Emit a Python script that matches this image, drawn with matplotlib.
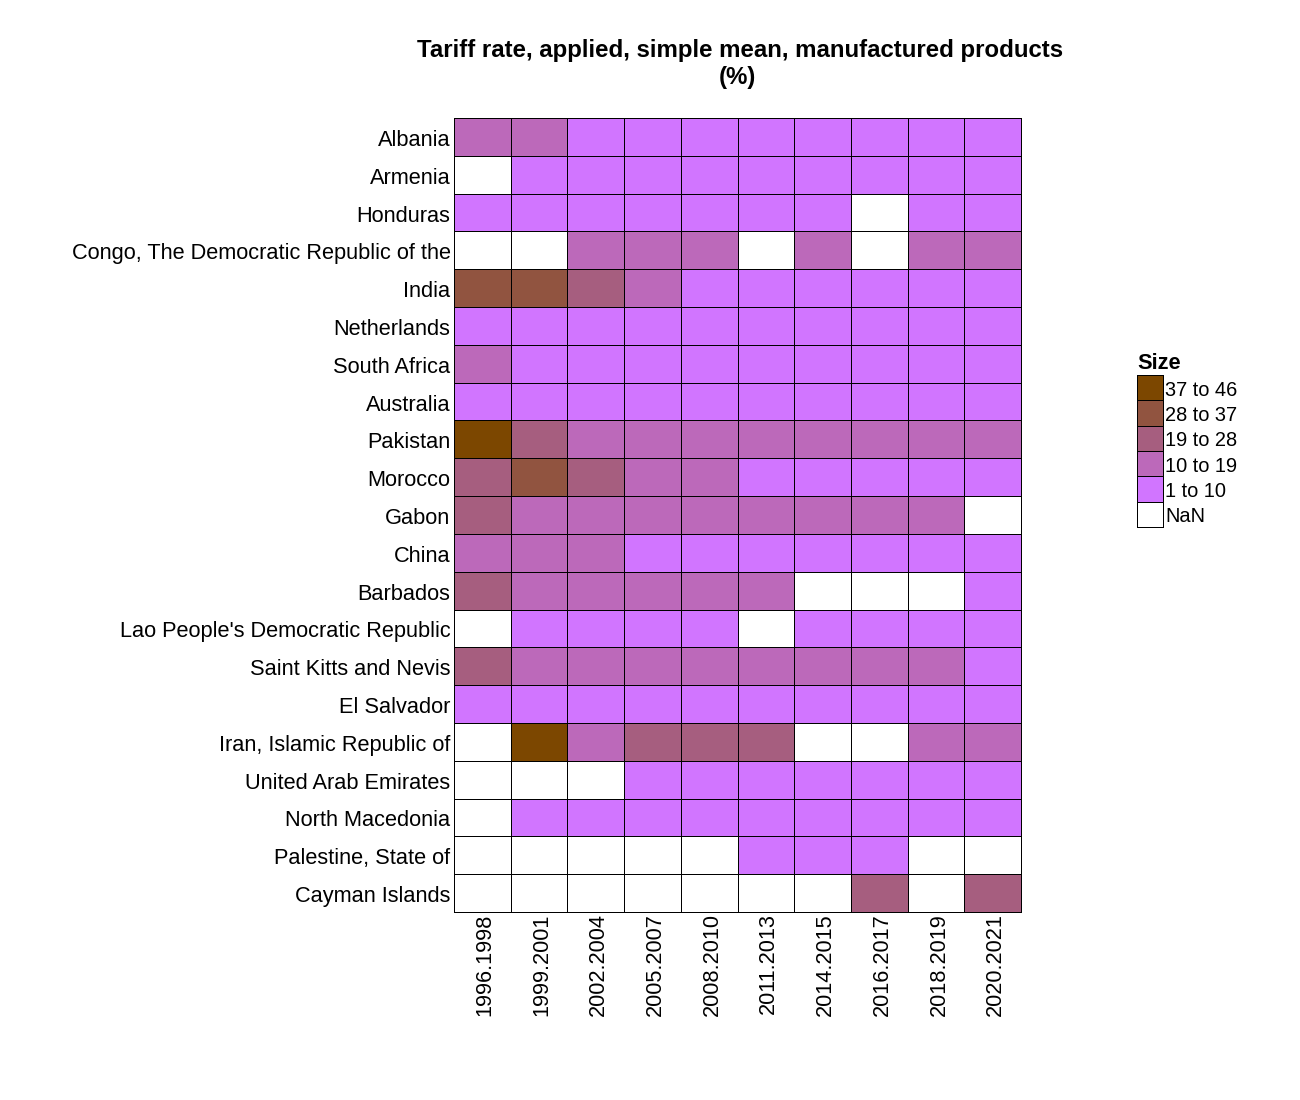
import numpy as np
import matplotlib
matplotlib.use("Agg")
import matplotlib.pyplot as plt
from matplotlib.colors import ListedColormap, BoundaryNorm
from matplotlib.transforms import ScaledTranslation

plt.rcParams['font.family'] = ['Liberation Sans', 'DejaVu Sans']

N = np.nan
periods = ["1996.1998", "1999.2001", "2002.2004", "2005.2007", "2008.2010",
           "2011.2013", "2014.2015", "2016.2017", "2018.2019", "2020.2021"]
countries = ["Albania", "Armenia", "Honduras", "Congo, The Democratic Republic of the",
             "India", "Netherlands", "South Africa", "Australia", "Pakistan", "Morocco",
             "Gabon", "China", "Barbados", "Lao People's Democratic Republic",
             "Saint Kitts and Nevis", "El Salvador", "Iran, Islamic Republic of",
             "United Arab Emirates", "North Macedonia", "Palestine, State of", "Cayman Islands"]
albania = [14, 14, 5, 5, 5, 5, 5, 5, 5, 5]
armenia = [N, 5, 5, 5, 5, 5, 5, 5, 5, 5]
honduras = [5, 5, 5, 5, 5, 5, 5, N, 5, 5]
congo = [N, N, 14, 14, 14, N, 14, N, 14, 14]
india = [32, 32, 23, 14, 5, 5, 5, 5, 5, 5]
netherlands = [5, 5, 5, 5, 5, 5, 5, 5, 5, 5]
south_africa = [14, 5, 5, 5, 5, 5, 5, 5, 5, 5]
australia = [5, 5, 5, 5, 5, 5, 5, 5, 5, 5]
pakistan = [41, 23, 14, 14, 14, 14, 14, 14, 14, 14]
morocco = [23, 32, 23, 14, 14, 5, 5, 5, 5, 5]
gabon = [23, 14, 14, 14, 14, 14, 14, 14, 14, N]
china = [14, 14, 14, 5, 5, 5, 5, 5, 5, 5]
barbados = [23, 14, 14, 14, 14, 14, N, N, N, 5]
lao = [N, 5, 5, 5, 5, N, 5, 5, 5, 5]
st_kitts = [23, 14, 14, 14, 14, 14, 14, 14, 14, 5]
el_salvador = [5, 5, 5, 5, 5, 5, 5, 5, 5, 5]
iran = [N, 41, 14, 23, 23, 23, N, N, 14, 14]
uae = [N, N, N, 5, 5, 5, 5, 5, 5, 5]
north_macedonia = [N, 5, 5, 5, 5, 5, 5, 5, 5, 5]
palestine = [N, N, N, N, N, 5, 5, 5, N, N]
cayman = [N, N, N, N, N, N, N, 23, N, 23]

bin_edges = [1, 10, 19, 28, 37, 46]
bin_colors = ["#D175FF", "#BC69BA", "#A65E7F", "#915440", "#7C4700"]
legend_labels = ["37 to 46", "28 to 37", "19 to 28", "10 to 19", "1 to 10", "NaN"]
legend_values = [41, 32, 23, 14, 5, N]

matrix = np.array([albania, armenia, honduras, congo, india, netherlands, south_africa,
                   australia, pakistan, morocco, gabon, china, barbados, lao, st_kitts,
                   el_salvador, iran, uae, north_macedonia, palestine, cayman], dtype=float)

W, H = 1300, 1100
LW = 0.72
cmap = ListedColormap(bin_colors)
cmap.set_bad("white")
norm = BoundaryNorm(bin_edges, cmap.N)
fig = plt.figure(figsize=(W / 100, H / 100), dpi=100, facecolor="white")


def box(x0, y0, x1, y1):
    return [x0 / W, 1 - y1 / H, (x1 - x0) / W, (y1 - y0) / H]


def nudge(labels, dx, dy):
    off = ScaledTranslation(dx / 100, -dy / 100, fig.dpi_scale_trans)
    for t in labels:
        t.set_transform(t.get_transform() + off)


ax = fig.add_axes(box(454, 118, 1021, 912))
ax.pcolormesh(np.ma.masked_invalid(matrix), cmap=cmap, norm=norm,
              edgecolors="black", linewidth=LW)
ax.invert_yaxis()
ax.set_xticks(np.arange(len(periods)) + 0.5, periods, rotation=90, fontsize=15.7)
ax.set_yticks(np.arange(len(countries)) + 0.5, countries, fontsize=15.7)
ax.tick_params(length=0, pad=2.5)
ax.tick_params(axis="x", pad=1)
nudge(ax.get_xticklabels(), 3, 0)
nudge(ax.get_yticklabels(), 0, 1)
for s in ax.spines.values():
    s.set_linewidth(LW)

fig.text(740.5 / W, 1 - 50 / H, "Tariff rate, applied, simple mean, manufactured products",
         ha="center", va="center", fontsize=17.3, fontweight="bold")
fig.text(737 / W, 1 - 77 / H, "(%)", ha="center", va="center", fontsize=17.3, fontweight="bold")

lax = fig.add_axes(box(1137, 375, 1162.5, 527))
lax.pcolormesh(np.ma.masked_invalid(np.array(legend_values, dtype=float).reshape(-1, 1)),
               cmap=cmap, norm=norm, edgecolors="black", linewidth=LW)
lax.invert_yaxis()
lax.set_xticks([])
lax.set_yticks(np.arange(len(legend_labels)) + 0.5)
lax.set_yticklabels(legend_labels, fontsize=14.4)
lax.yaxis.tick_right()
lax.tick_params(length=0, pad=1.8)
nudge(lax.get_yticklabels(), 0, 0.5)
for s in lax.spines.values():
    s.set_linewidth(LW)
fig.text(1137 / W, 1 - 363 / H, "Size", ha="left", va="center", fontsize=15.7, fontweight="bold")

fig.savefig("out.png", dpi=100, facecolor="white")
